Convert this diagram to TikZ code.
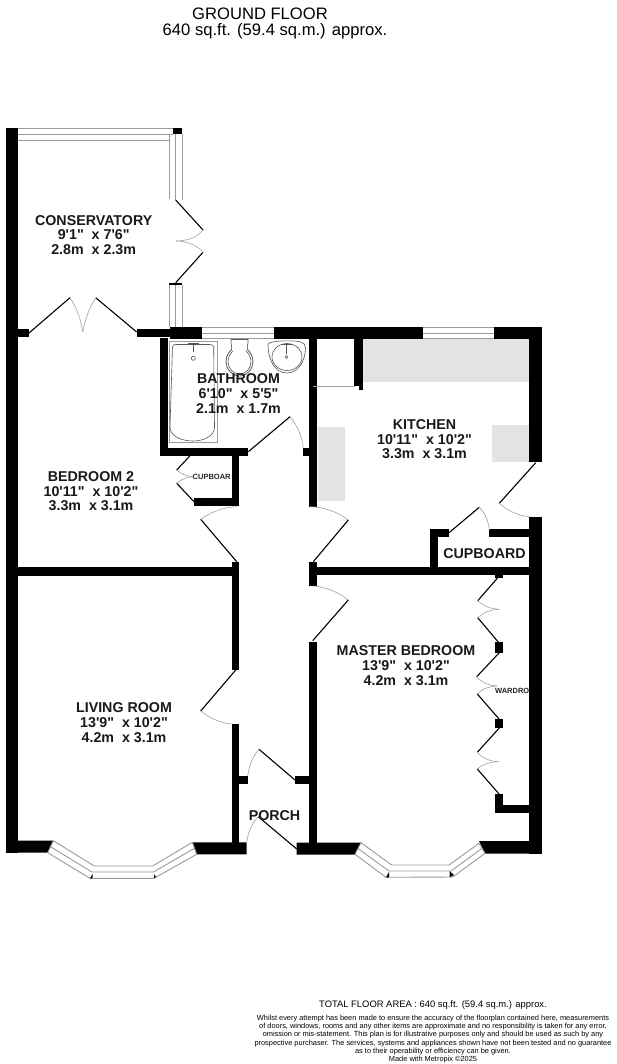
\documentclass[tikz,border=0pt]{standalone}
\usepackage{fontspec}
\newfontfamily\planfont{Liberation Sans}
\definecolor{bench}{HTML}{E3E3E3}
\definecolor{glass}{HTML}{9A9A9A}
\definecolor{swingcol}{HTML}{A0A0A0}
\definecolor{fixt}{HTML}{555555}
\tikzset{
  wall/.style={fill=black,draw=none},
  counter/.style={fill=bench,draw=none},
  pane/.style={draw=glass,line width=0.9pt,fill=white},
  paneline/.style={draw=glass,line width=0.9pt},
  leaf/.style={draw=black,line width=1.1pt},
  swing/.style={draw=swingcol,line width=0.6pt},
  fixture/.style={draw=fixt,line width=0.6pt},
  roomlabel/.style={font=\planfont\bfseries\fontsize{14.25}{14.6}\selectfont,align=center,inner sep=0pt,text=black!90},
  tinylabel/.style={font=\planfont\bfseries\fontsize{7.5}{8}\selectfont,inner sep=0pt,text=black!85},
  titlelabel/.style={font=\planfont\fontsize{16.6}{17.4}\selectfont,inner sep=0pt},
  footlabel/.style={font=\planfont\fontsize{7.4}{8}\selectfont,inner sep=0pt}
}
\begin{document}
\begin{tikzpicture}[x=1pt,y=-1pt]
\useasboundingbox (0,0) rectangle (616,1064);
\fill[white] (0,0) rectangle (616,1064);
% counters
\fill[counter] (363,339) rectangle (529,381.7);
\fill[counter] (318,426.7) rectangle (345,500.7);
\fill[counter] (491.7,425) rectangle (529,462.3);
% walls
\fill[wall] (6,128) rectangle (18.3,852.7);
\fill[wall] (18,328.5) rectangle (29,336.7);
\fill[wall] (137,328.5) rectangle (170,336.7);
\fill[wall] (170,327) rectangle (202,339);
\fill[wall] (274,327) rectangle (422.7,339);
\fill[wall] (494.3,327) rectangle (541.7,339);
\fill[wall] (529,327) rectangle (541.7,461.7);
\fill[wall] (529.3,517.3) rectangle (541.7,853.5);
\fill[wall] (160,338) rectangle (168.3,455.7);
\fill[wall] (160,448) rectangle (248.3,455.7);
\fill[wall] (231.7,455) rectangle (239.3,505.7);
\fill[wall] (194,498) rectangle (239.3,505.7);
\fill[wall] (309,338) rectangle (317.3,506.7);
\fill[wall] (303.3,447.7) rectangle (309.5,456);
\fill[wall] (354.3,338) rectangle (363.3,386);
\fill[wall] (359,386) rectangle (363.3,390);
\fill[wall] (6,566.7) rectangle (239.3,575.7);
\fill[wall] (231.7,561.7) rectangle (239.3,670);
\fill[wall] (309,561.7) rectangle (317.3,586);
\fill[wall] (317,566.7) rectangle (530,575.3);
\fill[wall] (430,529.3) rectangle (438.3,567);
\fill[wall] (430,529.3) rectangle (449,537.3);
\fill[wall] (489.3,529.3) rectangle (530,537.3);
\fill[wall] (231.7,724) rectangle (239.3,845);
\fill[wall] (239,776) rectangle (247.7,784.3);
\fill[wall] (295,776) rectangle (310,784.3);
\fill[wall] (309.3,641.7) rectangle (317.3,845);
% bottom walls
\fill[wall] (6,840.7) -- (53.3,840.7) -- (47.7,852.7) -- (6,852.7) -- cycle;
\fill[wall] (192.3,842.3) -- (246.7,842.3) -- (246.7,854.3) -- (196.7,854.3) -- cycle;
\fill[wall] (296.7,842.5) -- (361,842.5) -- (355,854.5) -- (296.7,854.5) -- cycle;
\fill[wall] (479,841) -- (541.7,841) -- (541.7,853.5) -- (485,853.5) -- cycle;
% wardrobe piers
\fill[wall] (495,575) rectangle (503.3,577.5);
\fill[wall] (495,641.7) rectangle (503.3,652.7);
\fill[wall] (495,719) rectangle (503.3,728);
\fill[wall] (495,794.3) rectangle (503.3,813.3);
\fill[wall] (495,805) rectangle (530,813.3);
% conservatory windows
\fill[wall] (172.7,128) rectangle (182.3,134);
\fill[wall] (169,283) rectangle (182,285.5);
\draw[paneline] (18,128.5) -- (172.7,128.5);
\draw[paneline] (18,134) -- (172.7,134);
\draw[paneline] (18,140.5) -- (169,140.5);
\draw[paneline] (169.5,134) -- (169.5,199.5);
\draw[paneline] (175.7,134) -- (175.7,200);
\draw[paneline] (182,134) -- (182,200);
\draw[paneline] (169.5,285) -- (169.5,327);
\draw[paneline] (175.7,285) -- (175.7,327);
\draw[paneline] (182,285) -- (182,327);
% top windows
\draw[paneline] (202,327.5) -- (274,327.5);
\draw[paneline] (202,333) -- (274,333);
\draw[paneline] (202,338.5) -- (274,338.5);
\draw[paneline] (422.7,327.5) -- (494.3,327.5);
\draw[paneline] (422.7,333) -- (494.3,333);
\draw[paneline] (422.7,338.5) -- (494.3,338.5);
% bay windows
\draw[pane] (53.3,840.7) -- (94.3,866) -- (152.7,866) -- (192.3,842.3) -- (196.7,854.3) -- (154,878.3) -- (90,878.3) -- (47.7,852.7) -- cycle;
\draw[paneline] (50.5,846.7) -- (92,872) -- (153.5,872) -- (194.5,848.3);
\fill[black] (90,878.3) -- (92.5,874) -- (92.5,878.3) -- cycle;
\fill[black] (154,878.3) -- (154,874) -- (156,877) -- cycle;
\draw[pane] (361,842.7) -- (391.7,865) -- (449,865) -- (479,843.3) -- (485,853.3) -- (452.7,877) -- (386,877.3) -- (355,854.3) -- cycle;
\draw[paneline] (358,848.5) -- (389,871) -- (451,871) -- (482,848.3);
\fill[black] (386,877.3) -- (389,872) -- (389,877.3) -- cycle;
\fill[black] (449.5,871) -- (449.5,877.3) -- (454,875) -- cycle;
% door leaves and swings
\draw[leaf] (175.7,200) -- (203,230);
\draw[swing] (203,230) .. controls (197,238) and (186,241) .. (176,241);
\draw[leaf] (175.7,282.7) -- (203,252.3);
\draw[swing] (203,252.3) .. controls (197,245) and (186,241) .. (176,241);
\draw[leaf] (29,333) -- (70,297.7);
\draw[swing] (70,297.7) .. controls (77,308) and (81,320) .. (82.7,332);
\draw[leaf] (136.7,332) -- (95.7,297.7);
\draw[swing] (95.7,297.7) .. controls (89,308) and (85,320) .. (82.7,332);
\draw[leaf] (190,455.7) -- (176.7,470);
\draw[swing] (176.7,470) .. controls (181,474) and (187,476.5) .. (192.7,476.7);
\draw[leaf] (194,501.7) -- (176.7,483.3);
\draw[swing] (176.7,483.3) .. controls (181,479.5) and (187,477) .. (192.7,476.7);
\draw[leaf] (248.3,451.7) -- (290,416.7);
\draw[swing] (290,416.7) .. controls (297,425) and (302,436) .. (303.3,447.7);
\draw[leaf] (236.7,561.7) -- (200.7,519.3);
\draw[swing] (200.7,519.3) .. controls (211,512) and (224,507) .. (236.7,506.7);
\draw[leaf] (313.3,561.7) -- (348.3,520);
\draw[swing] (348.3,520) .. controls (338,512) and (324,507) .. (310,506.7);
\draw[leaf] (535.7,462.7) -- (499.3,503.3);
\draw[swing] (499.3,503.3) .. controls (508,511) and (518,515.5) .. (529.3,516.7);
\draw[leaf] (449,532.7) -- (479.3,507.3);
\draw[swing] (479.3,507.3) .. controls (485,513) and (488.5,521) .. (489.3,530);
\draw[leaf] (312.7,640.7) -- (348.3,600);
\draw[swing] (348.3,600) .. controls (338,592) and (326,587) .. (313.3,586);
\draw[leaf] (235.7,670) -- (200.7,711);
\draw[swing] (200.7,711) .. controls (210,718) and (220,723) .. (231.7,724);
\draw[leaf] (295,780) -- (259,749.3);
\draw[swing] (259,749.3) .. controls (253,756) and (249,766) .. (247.7,776);
\draw[leaf] (296.7,849) -- (258.3,816.7);
\draw[swing] (258.3,816.7) .. controls (252,823) and (248,832) .. (246.7,842.7);
% wardrobe doors
\draw[leaf] (499.3,576) -- (477.7,600.7);
\draw[swing] (477.7,600.7) .. controls (483,606) and (491,609) .. (499.3,609.3);
\draw[leaf] (477.7,617.7) -- (499.3,643.3);
\draw[swing] (477.7,617.7) .. controls (483,612.5) and (491,609.5) .. (499.3,609.3);
\draw[leaf] (499.3,652.7) -- (476.7,676.7);
\draw[swing] (476.7,676.7) .. controls (481,682) and (488,685.5) .. (497,686);
\draw[leaf] (477.3,694) -- (499.3,719.3);
\draw[swing] (477.3,694) .. controls (481,689.5) and (488,686.5) .. (497,686);
\draw[leaf] (499.3,728) -- (477.3,752.3);
\draw[swing] (477.3,752.3) .. controls (482,758) and (490,761.5) .. (498.7,761.7);
\draw[leaf] (477.3,769) -- (499.3,794.3);
\draw[swing] (477.3,769) .. controls (482,764.5) and (490,762) .. (498.7,761.7);
% thin line in kitchen
\draw[swing] (313,386) -- (355,386);
% bath
\draw[fixture,draw=glass] (168.8,341.7) rectangle (217.3,442.3);
\draw[fixture] (172.5,347) .. controls (172.5,345) and (174,344.5) .. (176,344.5) -- (210,344.5) .. controls (212.5,344.5) and (213.5,345.5) .. (213.7,347) -- (214.5,427) .. controls (214.5,436) and (204,441) .. (193,441) .. controls (181,441) and (170,436) .. (170,427) -- cycle;
\draw[fixture] (187.5,343.5) -- (199,343.5);
\draw[fixture,line width=1pt] (193.3,343.5) -- (193.3,352);
\draw[fixture] (193.3,358.3) circle (2);
% toilet
\draw[fixture] (231,339.5) -- (248,339.5) -- (248,343) .. controls (248,346) and (246,348) .. (248,350);
\draw[fixture] (231,339.5) -- (231,343) .. controls (231,346) and (233,348) .. (231,350);
\draw[fixture,line width=0.8pt] (232,349.5) .. controls (228,352) and (226,357) .. (226,362) .. controls (226,369) and (232,376) .. (239.5,376) .. controls (247,376) and (253,369) .. (253,362) .. controls (253,357) and (251,352) .. (247,349.5);
\draw[fixture] (233,351) .. controls (229.5,354) and (228,358) .. (228,362) .. controls (228,368) and (233,374) .. (239.5,374) .. controls (246,374) and (251,368) .. (251,362) .. controls (251,358) and (249.5,354) .. (246,351);
% basin
\draw[fixture] (268,345) .. controls (268,343) and (271,342) .. (276,341.5) .. controls (285,340.5) and (295,340.5) .. (301,342) .. controls (304,343) and (305.5,345) .. (305.5,348) .. controls (305.5,361) and (298,373) .. (287,373) .. controls (275,373) and (268,360) .. (268,345) -- cycle;
\draw[fixture] (287,357) ellipse (15 and 13.5);
\draw[fixture] (281,344.5) -- (292,344.5);
\draw[fixture,line width=1pt] (286.5,344) -- (286.5,354);
\draw[fixture] (286.5,357) circle (1.5);
% labels
\node[titlelabel] (titleA) at (260,14) {GROUND FLOOR};
\node[titlelabel] (titleB) at (275,31) {640 sq.ft. (59.4 sq.m.) approx.};
\node[roomlabel] (conservatory) at (93.7,235) {CONSERVATORY\\9'1"~~x 7'6"\\2.8m~~x 2.3m};
\node[roomlabel] (bathroom) at (238.5,393.5) {BATHROOM\\6'10"~~x 5'5"\\2.1m~~x 1.7m};
\node[roomlabel] (kitchen) at (424.5,439.2) {KITCHEN\\10'11"~~x 10'2"\\3.3m~~x 3.1m};
\node[roomlabel] (bedroom) at (91,491.5) {BEDROOM 2\\10'11"~~x 10'2"\\3.3m~~x 3.1m};
\node[roomlabel] (master) at (406,665.5) {MASTER BEDROOM\\13'9"~~x 10'2"\\4.2m~~x 3.1m};
\node[roomlabel] (living) at (124,722.5) {LIVING ROOM\\13'9"~~x 10'2"\\4.2m~~x 3.1m};
\node[roomlabel] (porch) at (274.5,815.5) {PORCH};
\node[roomlabel] (cupboard) at (484.5,553.5) {CUPBOARD};
\node[tinylabel] (cupboardB) at (211.7,477) {CUPBOAR};
\node[tinylabel] (wardrobe) at (512.2,690.7) {WARDRO};
\node[font=\planfont\fontsize{9.4}{11}\selectfont,inner sep=0pt] (total) at (433,1005) {TOTAL FLOOR AREA : 640 sq.ft. (59.4 sq.m.) approx.};
\node[footlabel] (f1) at (433,1018.3) {Whilst every attempt has been made to ensure the accuracy of the floorplan contained here, measurements};
\node[footlabel] (f2) at (433,1026.7) {of doors, windows, rooms and any other items are approximate and no responsibility is taken for any error,};
\node[footlabel] (f3) at (433,1035) {omission or mis-statement. This plan is for illustrative purposes only and should be used as such by any};
\node[footlabel] (f4) at (433,1043.3) {prospective purchaser. The services, systems and appliances shown have not been tested and no guarantee};
\node[footlabel] (f5) at (433,1051.7) {as to their operability or efficiency can be given.};
\node[footlabel] (f6) at (433,1059.7) {Made with Metropix ©2025};
\end{tikzpicture}
\end{document}
